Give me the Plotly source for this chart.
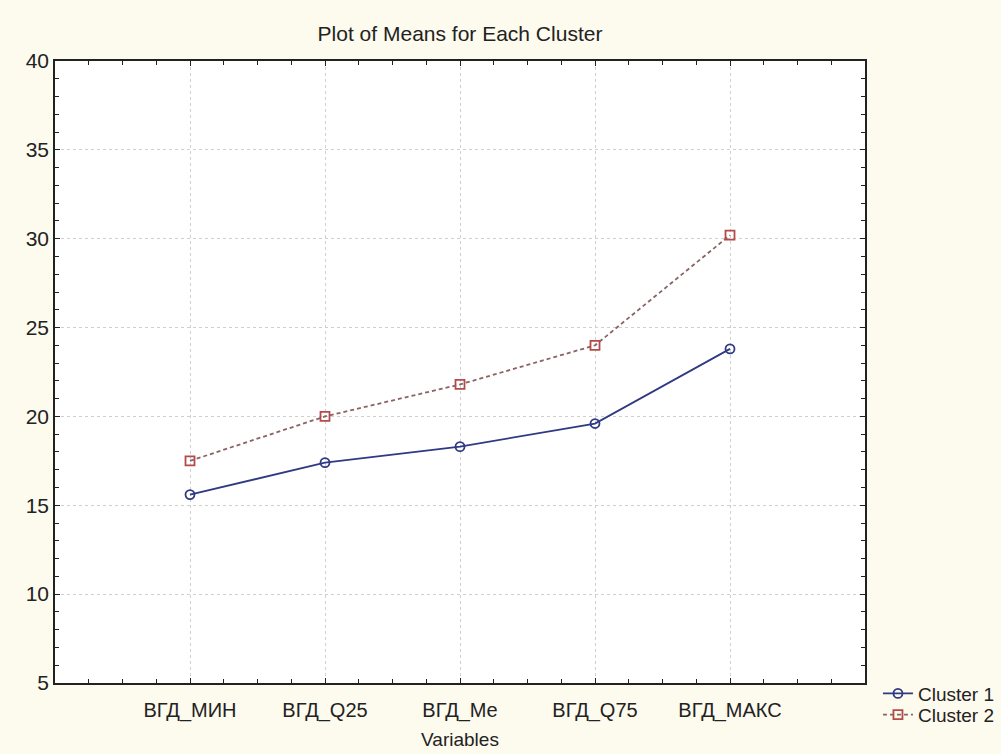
import plotly.graph_objects as go

variables = ["ВГД_МИН", "ВГД_Q25", "ВГД_Me", "ВГД_Q75", "ВГД_МАКС"]
positions = [1, 2, 3, 4, 5]
cluster1 = [15.6, 17.4, 18.3, 19.6, 23.8]
cluster2 = [17.5, 20.0, 21.8, 24.0, 30.2]

FONT = "Liberation Sans, Arial"

fig = go.Figure()
fig.add_trace(go.Scatter(
    x=positions, y=cluster1, name="Cluster 1", mode="lines+markers",
    line=dict(color="#2f3a82", width=1.8),
    marker=dict(symbol="circle-open", size=9, color="#2f3a82", line=dict(width=1.8)),
    legend="legend",
))
fig.add_trace(go.Scatter(
    x=positions, y=cluster2, name="Cluster 2", mode="lines+markers",
    line=dict(color="#8a6464", width=1.8, dash="4px,3px"),
    marker=dict(symbol="square-open", size=9, color="#b54a4a", line=dict(width=1.8)),
    legend="legend2",
))

axis_common = dict(
    showline=True, linecolor="#222", linewidth=1.5, mirror="ticks",
    ticks="inside", ticklen=5, tickcolor="#222",
    gridcolor="#cfcfcf", griddash="dot", gridwidth=1,
    zeroline=False,
)

fig.update_xaxes(
    **axis_common,
    range=[0, 6], tickvals=positions, ticktext=variables,
    tickfont=dict(family=FONT, size=20, color="#222"),
    ticklabelstandoff=8,
    minor=dict(dtick=0.25, ticks="inside", ticklen=4, tickcolor="#222", showgrid=False),
    title=dict(text="Variables", font=dict(family=FONT, size=19, color="#222"), standoff=12),
)
fig.update_yaxes(
    **axis_common,
    range=[5, 40], tickvals=[5, 10, 15, 20, 25, 30, 35, 40],
    tickfont=dict(family=FONT, size=21, color="#222"),
    minor=dict(dtick=1, ticks="inside", ticklen=4, tickcolor="#222", showgrid=False),
)

legend_common = dict(
    x=1.016, xanchor="left", yanchor="middle", bgcolor="rgba(0,0,0,0)",
    font=dict(family=FONT, size=19, color="#222"), itemwidth=30,
)

fig.update_layout(
    width=1001, height=754,
    paper_bgcolor="#fdfaee", plot_bgcolor="#ffffff",
    margin=dict(l=55, r=136, t=61, b=71, autoexpand=False),
    title=dict(text="Plot of Means for Each Cluster", x=0.5, xref="paper",
               y=0.955, yanchor="middle",
               font=dict(family=FONT, size=21, color="#222")),
    legend=dict(y=-0.017, **legend_common),
    legend2=dict(y=-0.051, **legend_common),
    showlegend=True,
)

fig.write_html("out.html")
